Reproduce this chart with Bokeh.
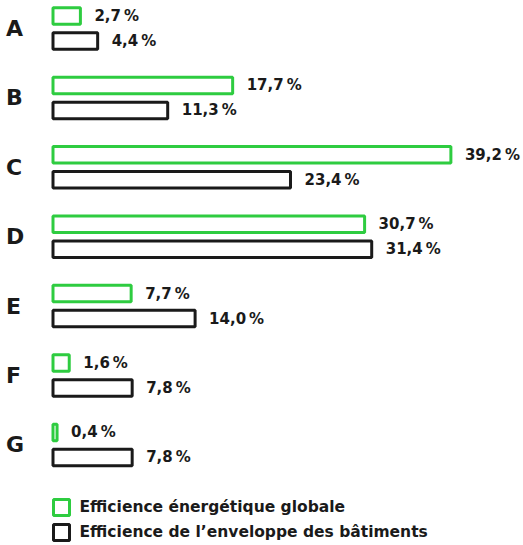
import numpy as np
from bokeh.plotting import figure
from bokeh.models import Range1d, ColumnDataSource, Legend, LegendItem
from bokeh.core.properties import value
from bokeh.embed import file_html
from bokeh.resources import INLINE

categories = ["A", "B", "C", "D", "E", "F", "G"]
globale = [2.7, 17.7, 39.2, 30.7, 7.7, 1.6, 0.4]
enveloppe = [4.4, 11.3, 23.4, 31.4, 14.0, 7.8, 7.8]
series_names = ["Efficience énergétique globale", "Efficience de l’enveloppe des bâtiments"]

GREEN = "#2ecc40"
DARK = "#1a1a1a"
FONT = "DejaVu Sans"

def fmt(v):
    return f"{v:.1f}".replace(".", ",") + "\u202f%"

idx = np.arange(len(categories), dtype=float)
offset = 0.36
bar_h = 0.238

src_g = ColumnDataSource(dict(y=idx, v=globale, lab=[fmt(v) for v in globale]))
src_b = ColumnDataSource(dict(y=idx + offset, v=enveloppe, lab=[fmt(v) for v in enveloppe]))

x_start = -52.5 / 10.15
x_end = x_start + 523 / 10.15
y_top = -15.5 / 69.4
y_bottom = y_top + 545 / 69.4

p = figure(width=523, height=545, x_range=Range1d(x_start, x_end),
           y_range=Range1d(y_bottom, y_top), min_border=0,
           toolbar_location=None, output_backend="svg")
p.axis.visible = False
p.grid.visible = False
p.outline_line_color = None
p.background_fill_color = "white"

rg = p.hbar(y="y", left=0, right="v", height=bar_h, source=src_g,
            fill_color="white", line_color=GREEN, line_width=3)
rb = p.hbar(y="y", left=0, right="v", height=bar_h, source=src_b,
            fill_color="white", line_color=DARK, line_width=3)

for src in (src_g, src_b):
    p.text(x="v", y="y", text="lab", source=src, x_offset=14,
           text_align="left", text_baseline="middle",
           text_font=value(FONT), text_font_style="bold",
           text_font_size="15px", text_color=DARK)

cat_src = ColumnDataSource(dict(x=[x_start] * len(categories), y=idx + offset / 2, c=categories))
p.text(x="x", y="y", text="c", source=cat_src, x_offset=5.5,
       text_align="left", text_baseline="middle",
       text_font=value(FONT), text_font_style="bold",
       text_font_size="22px", text_color=DARK)

legend = Legend(items=[LegendItem(label=series_names[0], renderers=[rg]),
                       LegendItem(label=series_names[1], renderers=[rb])],
                location=(50.5, 3), orientation="vertical",
                glyph_width=20, glyph_height=20, spacing=5, padding=0, margin=0,
                label_standoff=9, border_line_color=None,
                background_fill_alpha=0,
                label_text_font=FONT, label_text_font_style="bold",
                label_text_font_size="15.5px", label_text_color=DARK)
p.add_layout(legend)

open("out.html", "w").write(file_html(p, INLINE))
